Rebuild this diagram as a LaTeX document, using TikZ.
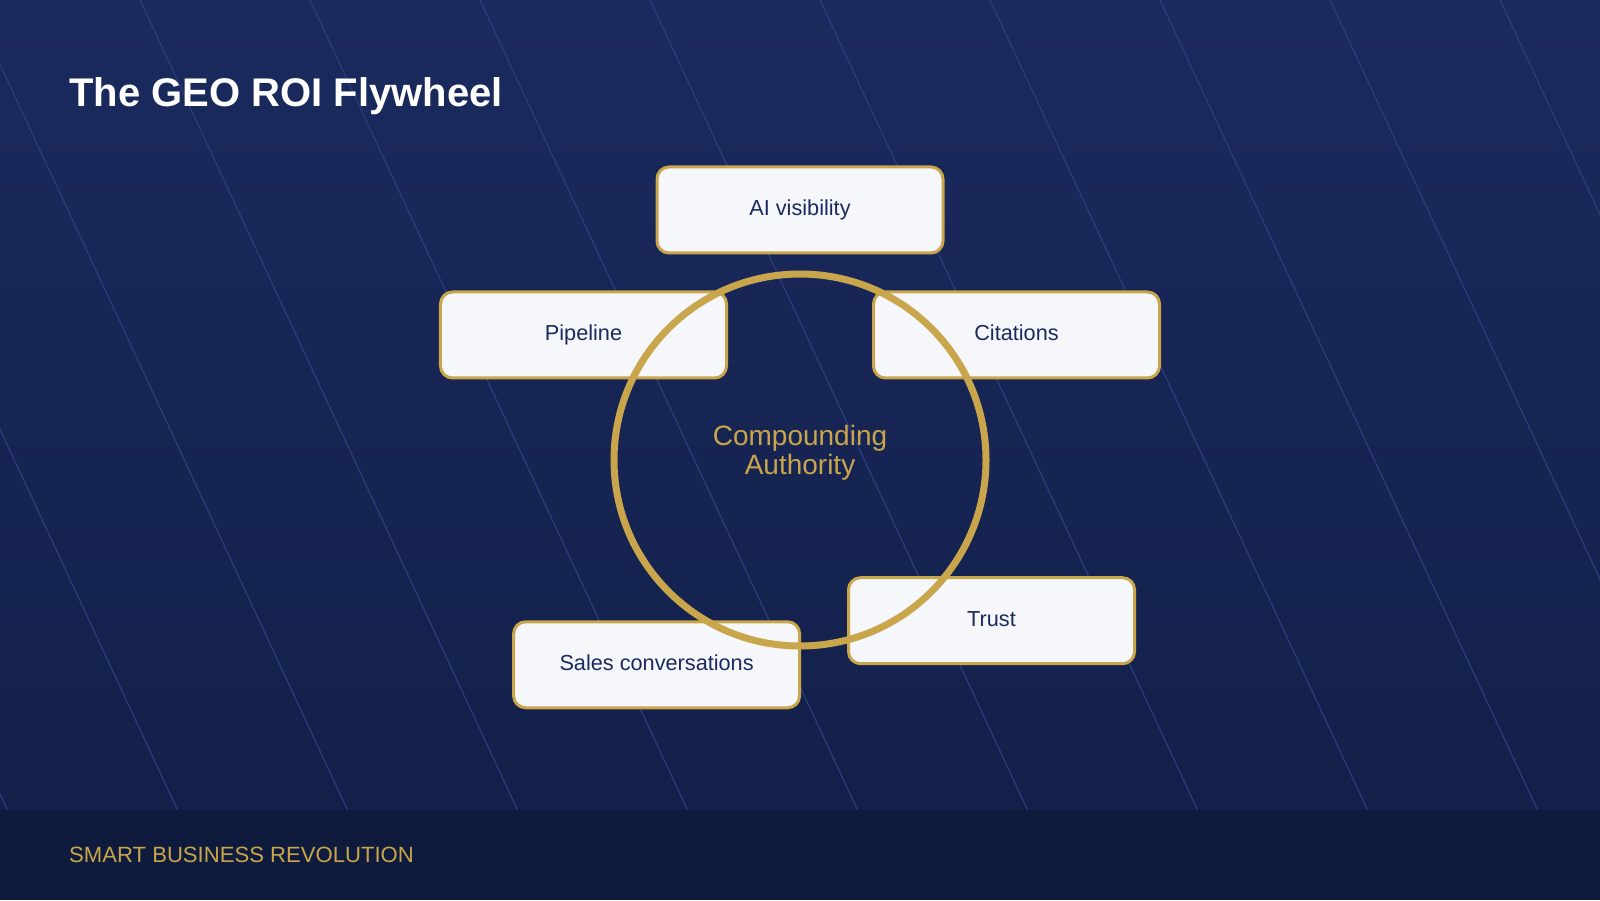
\documentclass[tikz,border=0pt]{standalone}
\usepackage{fontspec}
\setmainfont{Liberation Sans}
\usepackage{xcolor}
\definecolor{navytop}{HTML}{1B2A5E}
\definecolor{navybottom}{HTML}{13204A}
\definecolor{footernavy}{HTML}{0F1B3D}
\definecolor{stripe}{HTML}{2A3D7C}
\definecolor{gold}{HTML}{C9A64B}
\definecolor{cardfill}{HTML}{F5F7FB}
\definecolor{inkblue}{HTML}{1B2A5E}

\begin{document}
\begin{tikzpicture}[x=1pt, y=1pt,
    stage/.style={draw=gold, fill=cardfill, line width=3, rounded corners=12,
        minimum width=286, minimum height=86, text=inkblue,
        font=\fontsize{21.7}{26}\selectfont, text height=15.5, text depth=4}]
    \useasboundingbox (0,0) rectangle (1600,900);
    % Background
    \shade[top color=navytop, bottom color=navybottom] (0,90) rectangle (1600,900);
    % Diagonal stripes
    \begin{scope}
        \clip (0,90) rectangle (1600,900);
        \foreach \k in {-3,...,8}
        {
            \draw[stripe, line width=1.2] (140+170*\k,900) -- (517.5+170*\k,90);
        }
    \end{scope}
    % Footer band
    \fill[footernavy] (0,0) rectangle (1600,90);
    \node[anchor=base west, text=gold, font=\fontsize{22.1}{26}\selectfont, inner sep=0] (footer) at (69,38) {SMART BUSINESS REVOLUTION};
    % Title
    \node[anchor=base west, text=white, font=\fontsize{40}{48}\selectfont\bfseries, inner sep=0] (title) at (69,793) {The GEO ROI Flywheel};
    % Flywheel stages
    \coordinate (hub) at (800,440);
    \foreach \ang/\name/\txt in {90/visibility/AI visibility, 30/citations/Citations, -40/trust/Trust, 235/sales/Sales conversations, 150/pipeline/Pipeline}
    {
        \node[stage] (\name) at ([shift={(\ang:250)}]hub) {\txt};
    }
    % Ring
    \draw[gold, line width=7] (hub) circle (186);
    \node[text=gold, align=center, font=\fontsize{28}{29}\selectfont] (center) at (800,447) {Compounding\\Authority};
\end{tikzpicture}
\end{document}
